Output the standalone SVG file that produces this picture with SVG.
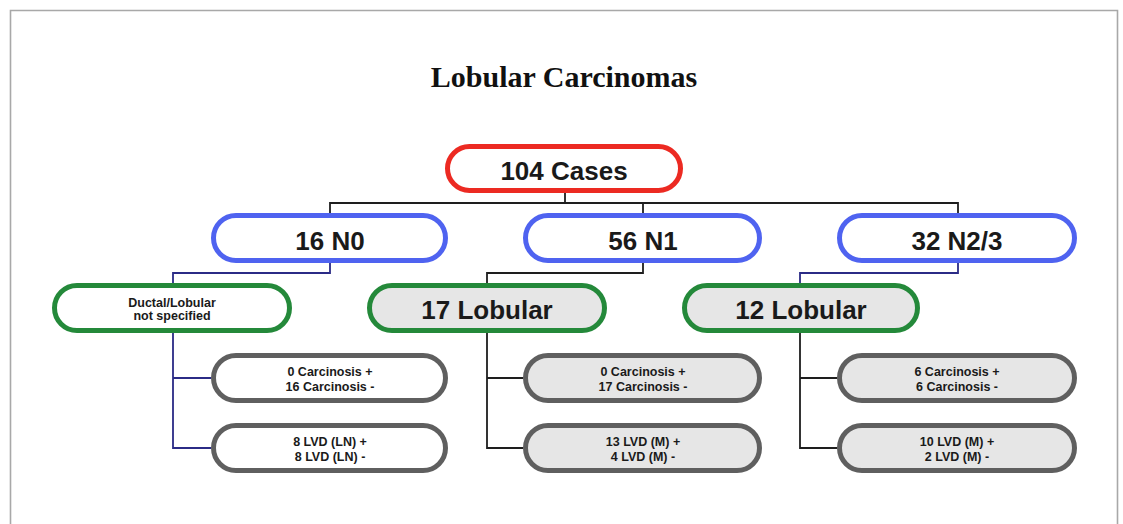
<svg xmlns="http://www.w3.org/2000/svg" width="1123" height="524" viewBox="0 0 1123 524">
<style>
.pill{stroke-width:5}
.root{fill:#fff;stroke:#ec2a22}
.blue{fill:#fff;stroke:#4f63f0}
.green{stroke:#24893a}
.leaf{stroke:#5f5f5f}
.wf{fill:#fff}
.gf{fill:#e6e6e6}
.big{font-family:"Liberation Sans",Arial,sans-serif;font-weight:bold;font-size:26px;fill:#1a1a1a;text-anchor:middle}
.sm{font-family:"Liberation Sans",Arial,sans-serif;font-weight:bold;font-size:12.5px;fill:#1a1a1a;text-anchor:middle}
.ln{fill:none;stroke-width:1.8}
.blk{stroke:#1e1e1e}
.nav{stroke:#2b2b86}
</style>
<rect width="1123" height="524" fill="#fff"/>
<path d="M10.5 530 V10.5 H1117.5 V530" fill="none" stroke="#a8a8a8" stroke-width="1.6"/>
<text x="564" y="87" font-family="'Liberation Serif','Times New Roman',serif" font-weight="bold" font-size="30" text-anchor="middle" fill="#111">Lobular Carcinomas</text>
<g id="connectors">
<path class="ln blk" d="M565 192 V203 M330 215 V203 H958 V215 M643 203 V215"/>
<path class="ln nav" d="M330 263 V273 H173 V285"/>
<path class="ln blk" d="M643 263 V273 H487 V285"/>
<path class="ln nav" d="M958 263 V273 H800 V285"/>
<path class="ln nav" d="M173 333 V448 H211 M173 378 H211"/>
<path class="ln blk" d="M487 333 V448 H523 M487 378 H523"/>
<path class="ln blk" d="M800 333 V448 H837 M800 378 H837"/>
</g>
<g id="root"><rect class="pill root" x="447.5" y="146.5" width="233" height="44" rx="22"/><text class="big" x="564" y="180">104 Cases</text></g>
<g id="n0"><rect class="pill blue" x="213.5" y="215.5" width="232" height="45" rx="22.5"/><text class="big" x="330" y="250">16 N0</text></g>
<g id="n1"><rect class="pill blue" x="525.5" y="215.5" width="234" height="45" rx="22.5"/><text class="big" x="643" y="250">56 N1</text></g>
<g id="n23"><rect class="pill blue" x="839.5" y="215.5" width="235" height="45" rx="22.5"/><text class="big" x="957" y="250">32 N2/3</text></g>
<g id="ductal"><rect class="pill green wf" x="54.5" y="285.5" width="235" height="45" rx="22.5"/><text class="sm" x="172" y="306.5">Ductal/Lobular</text><text class="sm" x="172" y="320">not specified</text></g>
<g id="lob17"><rect class="pill green gf" x="369.5" y="285.5" width="235" height="45" rx="22.5"/><text class="big" x="487" y="319">17 Lobular</text></g>
<g id="lob12"><rect class="pill green gf" x="684.5" y="285.5" width="233" height="45" rx="22.5"/><text class="big" x="801" y="319">12 Lobular</text></g>
<g id="c1"><rect class="pill leaf wf" x="213.5" y="355.5" width="232" height="45" rx="22.5"/><text class="sm" x="330" y="376">0 Carcinosis +</text><text class="sm" x="330" y="391">16 Carcinosis -</text></g>
<g id="l1"><rect class="pill leaf wf" x="213.5" y="425.5" width="232" height="45" rx="22.5"/><text class="sm" x="330" y="446">8 LVD (LN) +</text><text class="sm" x="330" y="460.5">8 LVD (LN) -</text></g>
<g id="c2"><rect class="pill leaf gf" x="525.5" y="355.5" width="234" height="45" rx="22.5"/><text class="sm" x="643" y="376">0 Carcinosis +</text><text class="sm" x="643" y="391">17 Carcinosis -</text></g>
<g id="l2"><rect class="pill leaf gf" x="525.5" y="425.5" width="234" height="45" rx="22.5"/><text class="sm" x="643" y="446">13 LVD (M) +</text><text class="sm" x="643" y="460.5">4 LVD (M) -</text></g>
<g id="c3"><rect class="pill leaf gf" x="839.5" y="355.5" width="235" height="45" rx="22.5"/><text class="sm" x="957" y="376">6 Carcinosis +</text><text class="sm" x="957" y="391">6 Carcinosis -</text></g>
<g id="l3"><rect class="pill leaf gf" x="839.5" y="425.5" width="235" height="45" rx="22.5"/><text class="sm" x="957" y="446">10 LVD (M) +</text><text class="sm" x="957" y="460.5">2 LVD (M) -</text></g>
</svg>
